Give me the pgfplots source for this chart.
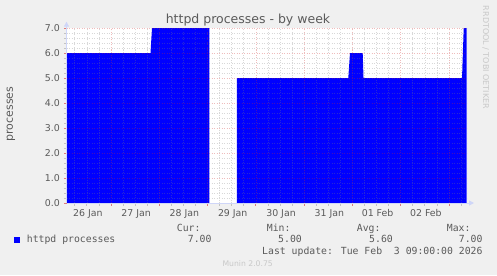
\documentclass[border=0pt]{standalone}
\usepackage{pgfplots}
\pgfplotsset{compat=1.18}
\usepackage{fontspec}
\setmainfont{DejaVu Sans}
\newfontfamily\monofont{DejaVu Sans Mono}
\usetikzlibrary{arrows.meta}
\definecolor{bg}{HTML}{F0F0F0}
\definecolor{fontc}{HTML}{5A5A5A}
\definecolor{axisc}{HTML}{CFD6F8}
\definecolor{areablue}{HTML}{0000FF}
\definecolor{wm}{HTML}{C8C8C8}
\definecolor{mgrid}{HTML}{D03030}

\begin{document}
\begin{tikzpicture}[x=1bp,y=1bp]
\fill[bg] (0,0) rectangle (497,275);
\begin{axis}[
  at={(66.5bp,72bp)}, anchor=south west,
  scale only axis, width=400bp, height=175bp,
  xmin=0.0785, xmax=8.3617, ymin=0, ymax=7,
  axis background/.style={fill=white},
  axis lines=left,
  axis on top,
  xtick={1,2,3,4,5,6,7,8}, xticklabels={},
  minor xtick={0.25,0.5,0.75,1.25,1.5,1.75,2.25,2.5,2.75,3.25,3.5,3.75,4.25,4.5,4.75,5.25,5.5,5.75,6.25,6.5,6.75,7.25,7.5,7.75,8.25},
  extra x ticks={0.5,1.5,2.5,3.5,4.5,5.5,6.5,7.5},
  extra x tick labels={26 Jan,27 Jan,28 Jan,29 Jan,30 Jan,31 Jan,01 Feb,02 Feb},
  extra x tick style={grid=none, major tick length=0pt, major tick style={draw=none}},
  ytick={0,1,2,3,4,5,6,7},
  yticklabels={0.0,1.0,2.0,3.0,4.0,5.0,6.0,7.0},
  minor ytick={0.2,0.4,0.6,0.8,1.2,1.4,1.6,1.8,2.2,2.4,2.6,2.8,3.2,3.4,3.6,3.8,4.2,4.4,4.6,4.8,5.2,5.4,5.6,5.8,6.2,6.4,6.6,6.8},
  grid=both,
  minor grid style={draw=gray, opacity=0.3, dash pattern=on 1bp off 1.5bp, line width=0.7bp},
  major grid style={draw=mgrid, opacity=0.32, dash pattern=on 1bp off 1.5bp, line width=0.7bp},
  tick align=outside, major tick length=2.5bp, minor tick length=2.5bp,
  major tick style={draw=mgrid, opacity=0.6, line width=0.8bp},
  minor tick style={draw=gray, opacity=0.4, line width=0.8bp},
  ticklabel style={font=\fontsize{9.4bp}{11bp}\selectfont, text=fontc, inner sep=0pt},
  yticklabel style={xshift=-4bp},
  xticklabel style={yshift=-6bp, xshift=1bp},
  axis line style={draw=axisc, line width=1bp},
  x axis line style={-{Triangle[length=5bp,width=5bp]}, shorten >=-7.5bp},
  y axis line style={-{Triangle[length=5bp,width=5bp]}, shorten >=-6.3bp},
]
\addplot[draw=none, fill=areablue] coordinates {(0.0785,6) (1.818,6) (1.849,7) (3.036,7)} \closedcycle;
\addplot[draw=none, fill=areablue] coordinates {(3.609,5) (5.914,5) (5.949,6) (6.212,6) (6.229,5) (8.269,5) (8.304,7) (8.3617,7)} \closedcycle;
\end{axis}
\node[font=\fontsize{12.5bp}{14bp}\selectfont, text=fontc, anchor=base, inner sep=0pt] at (248,251.7) {httpd processes - by week};
\node[rotate=90, font=\fontsize{11bp}{13bp}\selectfont, text=fontc, inner sep=0pt] at (11,161) {processes};
\node[rotate=-90, font=\fontsize{8bp}{9bp}\selectfont, text=wm, inner sep=0pt] at (485.7,217.5) {RRDTOOL / TOBI OETIKER};
\fill[areablue] (14,32.5) rectangle (20,38);
\begin{scope}[every node/.style={font=\monofont\fontsize{9.8bp}{11bp}\selectfont, text=fontc, inner sep=0pt}]
\node[anchor=base west] at (26.7,33) {httpd processes};
\node[anchor=base west] at (176.7,44) {Cur:};
\node[anchor=base east] at (211.7,33) {7.00};
\node[anchor=base west] at (266.7,44) {Min:};
\node[anchor=base east] at (302,33) {5.00};
\node[anchor=base west] at (356.7,44) {Avg:};
\node[anchor=base east] at (393,33) {5.60};
\node[anchor=base west] at (446.7,44) {Max:};
\node[anchor=base east] at (482.7,33) {7.00};
\node[anchor=base east] at (482.7,20.7) {Last update: Tue Feb\ \ 3 09:00:00 2026};
\end{scope}
\node[font=\fontsize{7.7bp}{9bp}\selectfont, text=wm, anchor=base, inner sep=0pt] at (247.7,8.3) {Munin 2.0.75};
\pgfresetboundingbox
\useasboundingbox (0,0) rectangle (497,275);
\end{tikzpicture}
\end{document}
